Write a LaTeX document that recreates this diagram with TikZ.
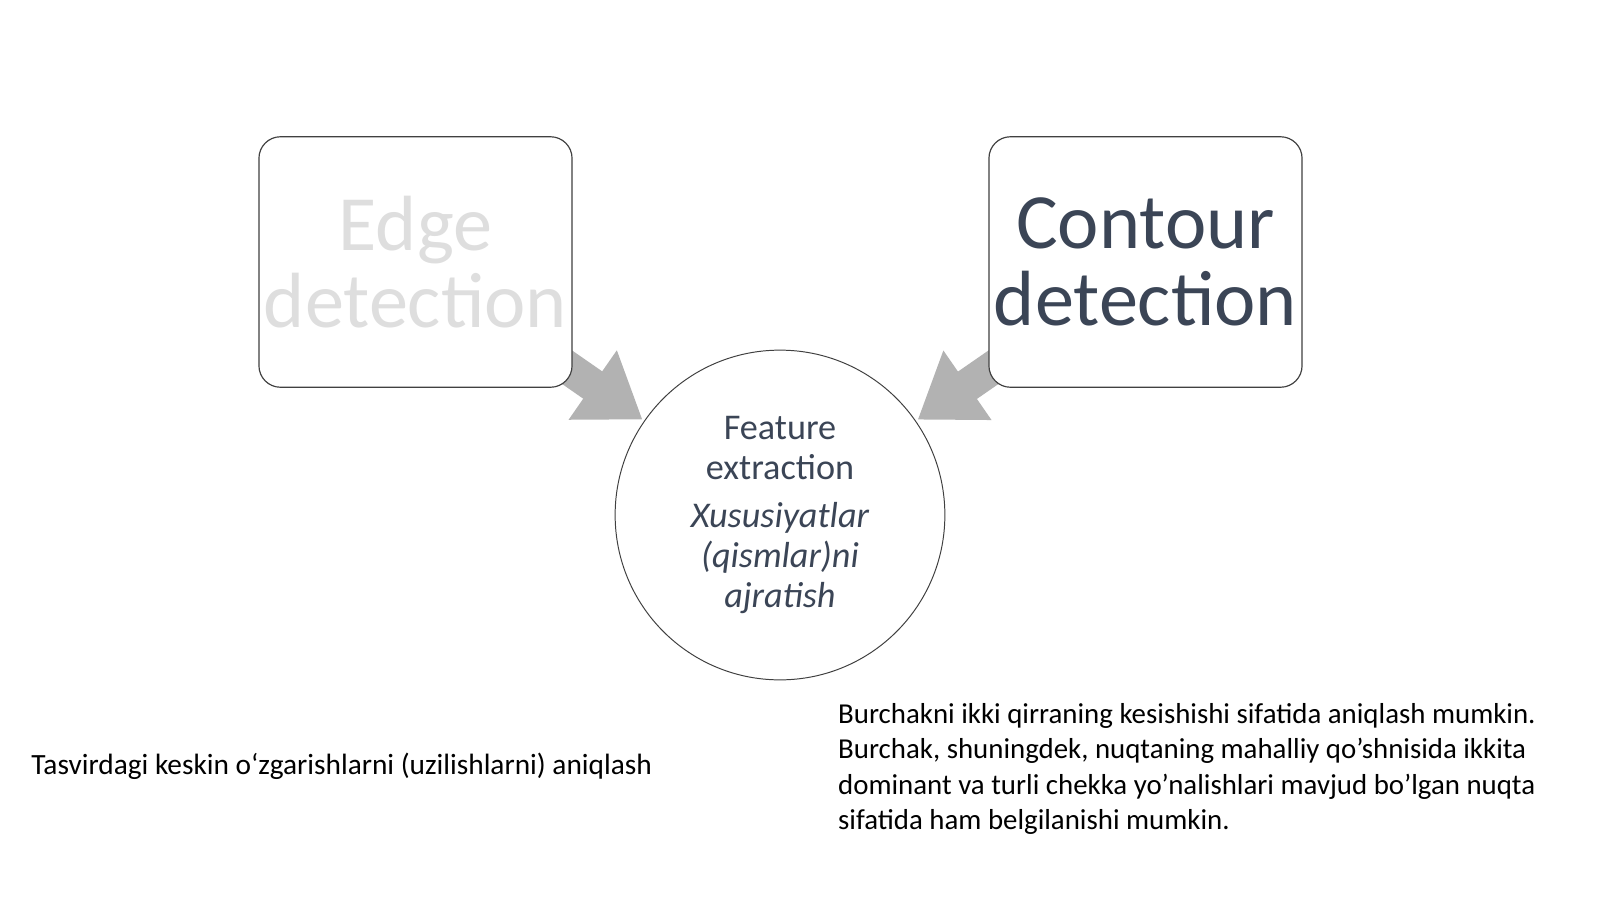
\documentclass[tikz,border=0pt]{standalone}
\usepackage{fontspec}
\setmainfont{Carlito}
\usetikzlibrary{arrows.meta,backgrounds}
\definecolor{txt}{HTML}{3B4556}
\newcommand\myap{\char"27\relax}
\begin{document}
\begin{tikzpicture}[x=1.022pt,y=-1.022pt,
 box/.style={draw=black!75,line width=1.2pt,rounded corners=22pt,fill=white,minimum width=320pt,minimum height=256pt,align=center,font=\fontsize{80}{78}\selectfont},
 big/.style={line width=34pt,draw=black!30,-{Triangle[length=62pt,width=82pt]},shorten >=2pt}]
\useasboundingbox (0,0) rectangle (1600,899);
\node[box,text=black!13] (edge) at (415.5,262) {Edge\\detection};
\node[box,text=txt] (cont) at (1145.5,262) {Contour\\detection};
\node[circle,draw=black!75,line width=1pt,minimum size=337pt,fill=white,align=center,text=txt,font=\fontsize{37}{41}\selectfont] (fe) at (780,515) {Feature\\extraction\\[8pt]\itshape Xususiyatlar\\\itshape (qismlar)ni\\\itshape ajratish};
\begin{pgfonlayer}{background}
\draw[big] (edge.center) -- (fe);
\draw[big] (cont.center) -- (fe);
\end{pgfonlayer}
\node[anchor=west,font=\fontsize{30}{36}\selectfont] (t1) at (28,766) {Tasvirdagi keskin oʻzgarishlarni (uzilishlarni) aniqlash};
\node[anchor=north west,align=left,inner sep=0,font=\fontsize{29.5}{36.3}\selectfont] (t2) at (838,703) {Burchakni ikki qirraning kesishishi sifatida aniqlash mumkin.\\Burchak, shuningdek, nuqtaning mahalliy qo\myap shnisida ikkita\\dominant va turli chekka yo\myap nalishlari mavjud bo\myap lgan nuqta\\sifatida ham belgilanishi mumkin.};
\end{tikzpicture}
\end{document}
